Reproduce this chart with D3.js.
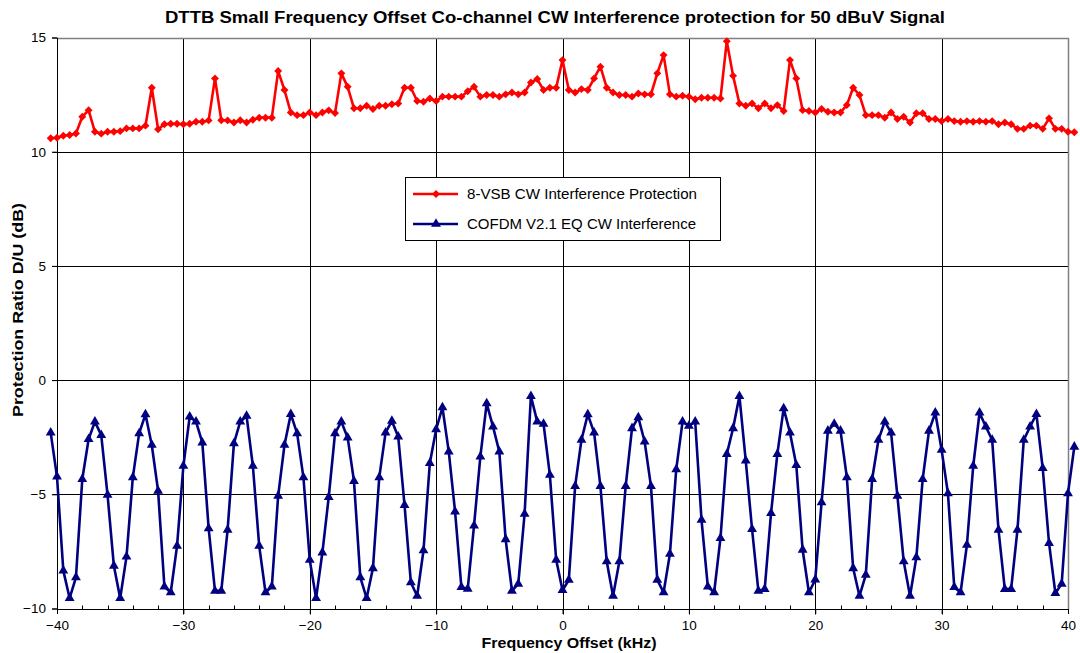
<!DOCTYPE html>
<html><head><meta charset="utf-8">
<script src="https://cdn.jsdelivr.net/npm/d3@7"></script>
<style>body{margin:0;background:#fff}svg{display:block}</style>
</head><body>
<svg id="c" width="1080" height="653"></svg>
<script>
const title = "DTTB Small Frequency Offset Co-channel CW Interference protection for 50 dBuV Signal";
const xTitle = "Frequency Offset (kHz)";
const yTitle = "Protection Ratio D/U (dB)";
const seriesNames = ["8-VSB CW Interference Protection", "COFDM V2.1 EQ CW Interference"];
const xTicks = [-40, -30, -20, -10, 0, 10, 20, 30, 40];
const xMinorTicks = [-38,-36,-34,-32,-28,-26,-24,-22,-18,-16,-14,-12,-8,-6,-4,-2,2,4,6,8,12,14,16,18,22,24,26,28,32,34,36,38];
const yTicks = [-10, -5, 0, 5, 10, 15];
const freqOffset = [
-40.5,-40,-39.5,-39,-38.5,-38,-37.5,-37,-36.5,-36,-35.5,-35,-34.5,-34,-33.5,-33,-32.5,-32,-31.5,-31,-30.5,
-30,-29.5,-29,-28.5,-28,-27.5,-27,-26.5,-26,-25.5,-25,-24.5,-24,-23.5,-23,-22.5,-22,-21.5,-21,-20.5,
-20,-19.5,-19,-18.5,-18,-17.5,-17,-16.5,-16,-15.5,-15,-14.5,-14,-13.5,-13,-12.5,-12,-11.5,-11,-10.5,
-10,-9.5,-9,-8.5,-8,-7.5,-7,-6.5,-6,-5.5,-5,-4.5,-4,-3.5,-3,-2.5,-2,-1.5,-1,-0.5,
0,0.5,1,1.5,2,2.5,3,3.5,4,4.5,5,5.5,6,6.5,7,7.5,8,8.5,9,9.5,
10,10.5,11,11.5,12,12.5,13,13.5,14,14.5,15,15.5,16,16.5,17,17.5,18,18.5,19,19.5,
20,20.5,21,21.5,22,22.5,23,23.5,24,24.5,25,25.5,26,26.5,27,27.5,28,28.5,29,29.5,
30,30.5,31,31.5,32,32.5,33,33.5,34,34.5,35,35.5,36,36.5,37,37.5,38,38.5,39,39.5,40,40.5];
const vsbProtection = [
10.59,10.61,10.70,10.73,10.80,11.53,11.82,10.87,10.79,10.87,10.87,10.90,11.02,11.02,11.02,11.14,12.80,10.98,11.20,11.22,11.22,
11.20,11.22,11.31,11.31,11.37,13.21,11.38,11.37,11.28,11.38,11.28,11.40,11.49,11.49,11.49,13.53,12.70,11.72,11.60,11.60,
11.72,11.60,11.72,11.81,11.69,13.43,12.84,11.90,11.90,12.01,11.87,12.01,12.01,12.08,12.11,12.80,12.80,12.22,12.19,12.33,
12.22,12.41,12.41,12.41,12.41,12.65,12.84,12.41,12.48,12.48,12.41,12.51,12.59,12.51,12.59,13.03,13.18,12.70,12.80,12.80,
14.01,12.70,12.59,12.74,12.70,13.21,13.72,12.80,12.59,12.48,12.48,12.41,12.55,12.51,12.51,13.43,14.23,12.51,12.41,12.45,
12.41,12.30,12.36,12.36,12.36,12.33,14.84,13.32,12.11,12.01,12.11,11.90,12.11,11.90,12.04,11.78,14.01,13.21,11.82,11.78,
11.72,11.87,11.75,11.72,11.72,12.04,12.80,12.48,11.60,11.60,11.60,11.49,11.72,11.43,11.53,11.28,11.68,11.68,11.43,11.43,
11.34,11.43,11.34,11.31,11.34,11.31,11.34,11.31,11.34,11.20,11.28,11.20,11.00,11.00,11.14,11.14,11.00,11.46,11.00,11.00,10.87,10.85];
const cofdmInterference = [
-2.30,-4.23,-8.34,-9.55,-8.64,-4.34,-2.59,-1.82,-2.41,-5.03,-8.13,-9.55,-7.73,-4.26,-2.33,-1.50,-2.84,-4.85,-9.04,-9.30,-7.26,
-3.76,-1.60,-1.82,-2.74,-6.49,-9.23,-9.23,-6.56,-2.77,-1.82,-1.57,-3.76,-7.26,-9.30,-9.04,-5.07,-2.84,-1.49,-2.33,-4.26,
-7.87,-9.55,-7.55,-5.13,-2.33,-1.82,-2.52,-4.42,-8.64,-9.55,-8.24,-4.26,-2.30,-1.79,-2.48,-5.47,-8.86,-9.45,-7.46,-3.64,
-2.16,-1.20,-3.13,-5.76,-9.07,-9.14,-6.37,-3.35,-1.02,-2.04,-3.13,-6.97,-9.23,-8.92,-5.86,-0.70,-1.82,-1.92,-4.15,-7.87,
-9.20,-8.75,-4.64,-2.62,-1.50,-2.30,-4.64,-7.94,-9.45,-7.94,-4.64,-2.11,-1.63,-2.70,-4.64,-8.75,-9.30,-7.61,-3.91,-1.82,
-2.01,-1.82,-6.12,-9.04,-9.30,-6.92,-3.24,-2.11,-0.70,-3.53,-6.53,-9.23,-9.15,-5.83,-3.24,-1.24,-2.30,-3.72,-7.43,-9.30,
-8.74,-5.36,-2.22,-1.92,-2.22,-4.26,-8.24,-9.45,-8.53,-4.34,-2.62,-1.82,-2.30,-5.07,-7.94,-9.45,-7.76,-4.34,-2.22,-1.43,
-3.06,-4.96,-9.07,-9.30,-7.22,-3.76,-1.43,-2.04,-2.62,-6.56,-9.15,-9.15,-6.56,-2.62,-2.04,-1.49,-3.86,-7.14,-9.33,-8.92,-4.96,-2.92];

const colors = ["#ff0000", "#000080"];
const font = "'Liberation Sans', Arial, sans-serif";
const L = 57, R = 1068, T = 37.5, B = 608.5;
const svg = d3.select("#c");
const x = d3.scaleLinear().domain([-40, 40]).range([L, R]);
const y = d3.scaleLinear().domain([-10, 15]).range([B, T]);
const px = v => Math.round(v) + 0.5;

// grid
const g = svg.append("g");
g.selectAll(".vg").data(xTicks.filter(d => d > -40 && d < 40)).join("line")
  .attr("x1", d => px(x(d))).attr("x2", d => px(x(d))).attr("y1", px(y(15))).attr("y2", px(y(-10)) + 5)
  .attr("stroke", "#000").attr("stroke-width", 1);
g.selectAll(".hg").data(yTicks.filter(d => d > -10 && d < 15)).join("line")
  .attr("x1", px(x(-40)) - 5).attr("x2", px(x(40))).attr("y1", d => px(y(d))).attr("y2", d => px(y(d)))
  .attr("stroke", "#000").attr("stroke-width", 1);
g.append("path").attr("d", `M${px(x(-40))},${px(y(15))}H${px(x(40))}V${px(y(-10))}`)
  .attr("fill", "none").attr("stroke", "#808080").attr("stroke-width", 1.5);

// axes
const xAxis = d3.axisBottom(x).tickValues(xTicks).tickSize(5).tickPadding(6).tickFormat(d3.format("d"));
const xa = svg.append("g").attr("transform", `translate(0,${Math.round(y(-10))})`).call(xAxis);
const yAxis = d3.axisLeft(y).tickValues(yTicks).tickSize(5).tickPadding(6).tickFormat(d3.format("d"));
const ya = svg.append("g").attr("transform", `translate(${Math.round(x(-40))},0)`).call(yAxis);
[xa, ya].forEach(a => {
  a.select(".domain").attr("stroke", "#000");
  a.selectAll(".tick line").attr("stroke", "#000");
  a.selectAll("text").attr("font-family", font).attr("font-size", 13.5).attr("fill", "#000");
});
svg.append("g").selectAll("line").data(xMinorTicks).join("line")
  .attr("x1", d => px(x(d))).attr("x2", d => px(x(d)))
  .attr("y1", px(y(-10))).attr("y2", px(y(-10)) - 4).attr("stroke", "#000");

// series
const line = d3.line().x(d => x(d[0])).y(d => y(d[1]));
const s1 = freqOffset.map((f, i) => [f, vsbProtection[i]]);
const s2 = freqOffset.map((f, i) => [f, cofdmInterference[i]]);
const diamond = d3.symbol().type(d3.symbolDiamond2).size(40);
const tri = d3.symbol().type(d3.symbolTriangle).size(42);

svg.append("path").datum(s1).attr("d", line).attr("fill", "none")
  .attr("stroke", colors[0]).attr("stroke-width", 2.6).attr("stroke-linejoin", "round");
svg.append("g").selectAll("path").data(s1).join("path")
  .attr("transform", d => `translate(${x(d[0])},${y(d[1])})`).attr("d", diamond).attr("fill", colors[0]);

svg.append("path").datum(s2).attr("d", line).attr("fill", "none")
  .attr("stroke", colors[1]).attr("stroke-width", 2.6).attr("stroke-linejoin", "round");
svg.append("g").selectAll("path").data(s2).join("path")
  .attr("transform", d => `translate(${x(d[0])},${y(d[1])})`).attr("d", tri).attr("fill", colors[1]);

// titles
svg.append("text").attr("x", 555).attr("y", 23).attr("text-anchor", "middle")
  .attr("font-family", font).attr("font-weight", "bold").attr("font-size", 16)
  .attr("textLength", 780).attr("lengthAdjust", "spacingAndGlyphs").text(title);
svg.append("text").attr("x", 569).attr("y", 648).attr("text-anchor", "middle")
  .attr("font-family", font).attr("font-weight", "bold").attr("font-size", 14)
  .attr("textLength", 175).attr("lengthAdjust", "spacingAndGlyphs").text(xTitle);
svg.append("text").attr("transform", "translate(23,310) rotate(-90)").attr("text-anchor", "middle")
  .attr("font-family", font).attr("font-weight", "bold").attr("font-size", 14)
  .attr("textLength", 214).attr("lengthAdjust", "spacingAndGlyphs").text(yTitle);

// legend
const lg = svg.append("g");
lg.append("rect").attr("x", 405.5).attr("y", 177.5).attr("width", 315).attr("height", 63)
  .attr("fill", "#fff").attr("stroke", "#000").attr("stroke-width", 1);
const legY = [194, 224];
const syms = [diamond, tri];
const legLen = [230, 229];
seriesNames.forEach((n, i) => {
  lg.append("line").attr("x1", 413).attr("x2", 458).attr("y1", legY[i]).attr("y2", legY[i])
    .attr("stroke", colors[i]).attr("stroke-width", 2.6);
  lg.append("path").attr("transform", `translate(436,${legY[i]})`).attr("d", syms[i]).attr("fill", colors[i]);
  lg.append("text").attr("x", 467).attr("y", legY[i] + 5).attr("font-family", font)
    .attr("font-size", 14).attr("textLength", legLen[i]).attr("lengthAdjust", "spacingAndGlyphs").text(n);
});
</script>
</body></html>
